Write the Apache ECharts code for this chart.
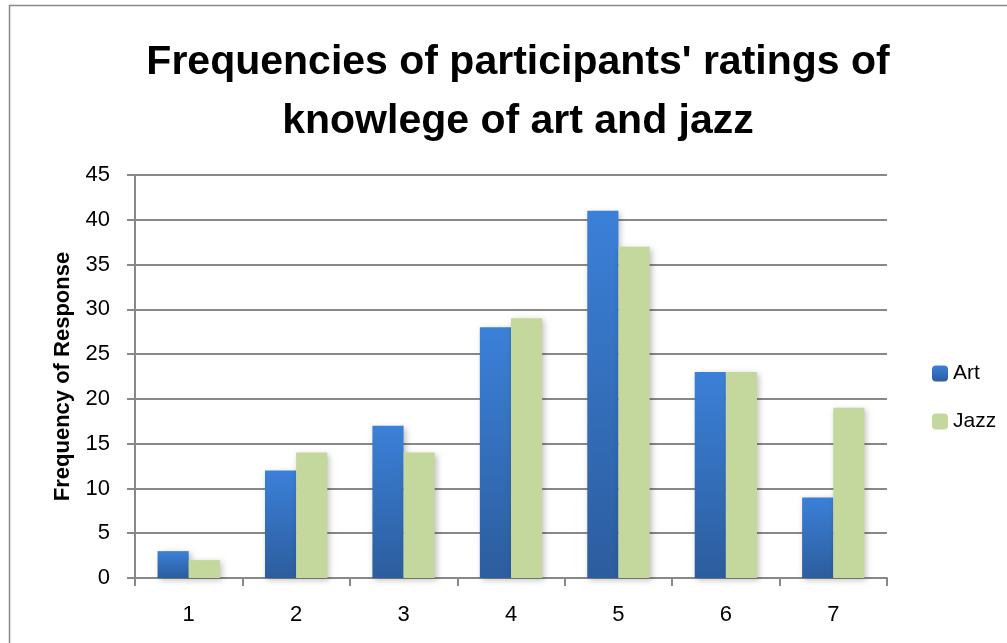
<!DOCTYPE html>
<html>
<head>
<meta charset="utf-8">
<script src="https://cdn.jsdelivr.net/npm/echarts@6/dist/echarts.min.js"></script>
<style>
    html, body { margin: 0; padding: 0; background: #fff; }
    #chart1 { width: 1007px; height: 643px; }
</style>
</head>
<body>
<div id="chart1"></div>
<script>
var categories = ["1", "2", "3", "4", "5", "6", "7"];
var artValues = [3, 12, 17, 28, 41, 23, 9];
var jazzValues = [2, 14, 14, 29, 37, 23, 19];
var seriesNames = ["Art", "Jazz"];

var font = "Liberation Sans, Arial, sans-serif";

var mychart = echarts.init(document.getElementById("chart1"));

var blue = new echarts.graphic.LinearGradient(0, 0, 0, 1, [
    { offset: 0, color: "#3b80d8" },
    { offset: 1, color: "#2c5d9e" }
]);
var blueIcon = new echarts.graphic.LinearGradient(0, 0, 0, 1, [
    { offset: 0, color: "#3b80d8" },
    { offset: 1, color: "#2c5d9e" }
]);

var option = {
    animation: false,
    title: {
        text: "Frequencies of participants' ratings of\nknowlege of art and jazz",
        left: 513,
        textAlign: "center",
        top: 28,
        textStyle: {
            color: "#000",
            fontFamily: font,
            fontWeight: "bold",
            fontSize: 41,
            lineHeight: 59
        }
    },
    legend: {
        orient: "vertical",
        left: 927,
        top: 358,
        itemWidth: 16,
        itemHeight: 16,
        itemGap: 27,
        data: [
            { name: seriesNames[0], itemStyle: { color: blueIcon } },
            { name: seriesNames[1] }
        ],
        textStyle: { color: "#000", fontFamily: font, fontSize: 21 }
    },
    graphic: [{
        type: "rect",
        shape: { x: 9.5, y: 5.5, width: 1100, height: 700 },
        style: { fill: "none", stroke: "#888", lineWidth: 1.5 },
        silent: true
    }],
    grid: {
        left: 135,
        right: 120,
        top: 175,
        bottom: 65
    },
    xAxis: {
        type: "category",
        data: categories,
        axisLine: { lineStyle: { color: "#888", width: 2 } },
        axisTick: { show: true, length: 8, lineStyle: { color: "#888", width: 2 } },
        axisLabel: { color: "#000", fontFamily: font, fontSize: 22, margin: 26 }
    },
    yAxis: {
        type: "value",
        min: 0,
        max: 45,
        interval: 5,
        name: "Frequency of Response",
        nameLocation: "middle",
        nameGap: 61,
        nameTextStyle: { color: "#000", fontFamily: font, fontWeight: "bold", fontSize: 22 },
        axisLine: { show: true, lineStyle: { color: "#888", width: 2 } },
        axisTick: { show: true, length: 8, inside: false, lineStyle: { color: "#888", width: 2 } },
        splitLine: { lineStyle: { color: "#888", width: 2 } },
        axisLabel: { color: "#000", fontFamily: font, fontSize: 22, margin: 25 }
    },
    series: [
        {
            name: seriesNames[0],
            type: "bar",
            data: artValues,
            barGap: "0%",
            barCategoryGap: "42%",
            itemStyle: {
                color: blue,
                shadowBlur: 6,
                shadowOffsetX: 2,
                shadowOffsetY: 2,
                shadowColor: "rgba(0,0,0,0.25)"
            }
        },
        {
            name: seriesNames[1],
            type: "bar",
            data: jazzValues,
            itemStyle: {
                color: "#c4d79c",
                shadowBlur: 6,
                shadowOffsetX: 2,
                shadowOffsetY: 2,
                shadowColor: "rgba(0,0,0,0.25)"
            }
        }
    ]
};
mychart.setOption(option);
</script>
</body>
</html>
